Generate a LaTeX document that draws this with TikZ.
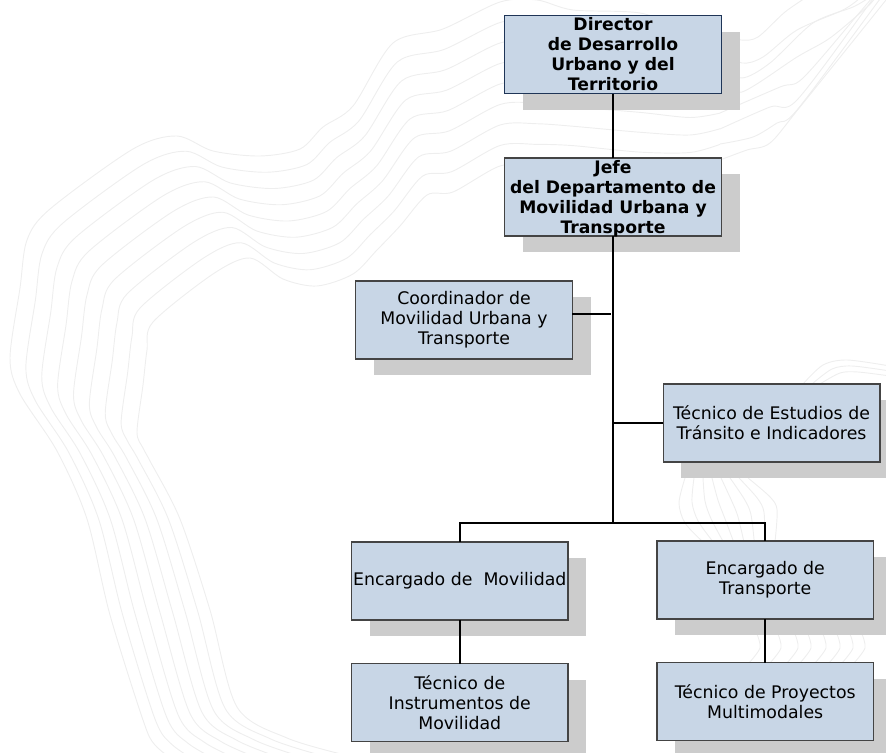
\documentclass[tikz,border=0pt]{standalone}
\usepackage{fontspec}
\setmainfont{DejaVu Sans}
\usetikzlibrary{shadows}
\definecolor{boxfill}{HTML}{C8D6E6}
\definecolor{shadowgray}{HTML}{CCCCCC}
\definecolor{contourgray}{HTML}{EEEEEE}
\definecolor{navyedge}{HTML}{1F3557}
\definecolor{grayedge}{HTML}{444444}
\def\ox{{720,690,640,573,537,500,443,393,353,323,300,260,213,177,133,50,27,20,10,20,57,87,110,143,155,180}}
\def\oy{{35,30,13,10,0,2,29,43,106,127,149,156,151,136,149,209,240,288,358,394,451,519,615,720,745,765}}
\def\ix{{720,690,640,573,537,500,453,427,400,377,353,317,283,250,213,153,147,143,137,143,150,180,210,237,287,345}}
\def\iy{{160,170,172,165,165,166,192,195,226,250,274,286,279,258,274,322,350,385,432,448,461,519,610,707,738,755}}
\tikzset{
  contour/.style={draw=contourgray,line width=0.7pt},
  orgbox/.style={draw=grayedge,fill=boxfill,line width=1pt,minimum width=162.5pt,minimum height=58.5pt,
    inner sep=0pt,outer sep=0pt,align=center,font=\fontsize{13pt}{15pt}\selectfont,
    general shadow={fill=shadowgray,shadow xshift=13.7pt,shadow yshift=-12.2pt}},
  headbox/.style={orgbox,font=\fontsize{12.9pt}{15pt}\selectfont\bfseries},
  link/.style={draw=black,line width=1.4pt}
}
\begin{document}
\begin{tikzpicture}[x=0.75pt,y=-0.75pt]
\useasboundingbox (0,0) rectangle (886,753);
\begin{scope}
\clip (0,0) rectangle (886,753);
% background contour lines
\foreach \t in {0,0.125,...,1.01}{
  \draw[contour] plot[smooth,samples at={0,...,25},variable=\i]
    ({\ox[\i]*(1-\t)+\ix[\i]*\t},{\oy[\i]*(1-\t)+\iy[\i]*\t});
}
\draw[contour] plot[smooth] coordinates {(720,35)(741,40)(758,37)(785,12)(810,-5)};
\draw[contour] plot[smooth] coordinates {(720,50.6)(742,63)(763,57)(797,30)(843,10)(860,-2)};
\draw[contour] plot[smooth] coordinates {(720,66)(742,78)(770,63)(813,23)(853,7)(870,-3)};
\draw[contour] plot[smooth] coordinates {(720,82)(742,92)(797,57)(830,38)(867,7)(875,-2)};
\draw[contour] plot[smooth] coordinates {(720,113)(780,87)(803,78)(860,12)(872,-2)};
\draw[contour] plot[smooth] coordinates {(720,129)(770,107)(797,100)(870,3)(873,-1)};
\draw[contour] plot[smooth] coordinates {(720,144)(753,137)(777,123)(797,110)(877,3)(880,-1)};
\draw[contour] plot[smooth] coordinates {(720,160)(747,150)(770,143)(800,107)(886,0)};
% arcs above the right-hand box
\draw[contour] plot[smooth] coordinates {(803,384)(823,365)(847,360)(890,366)};
\draw[contour] plot[smooth] coordinates {(812,384)(832,369)(852,366)(890,371)};
\draw[contour] plot[smooth] coordinates {(820,384)(840,373)(858,372)(890,376)};
% S-curves between the right-hand boxes
\foreach \t in {0,0.143,...,1.01}{
  \draw[contour] plot[smooth] coordinates {
    ({685+63*\t},478) ({679+91*\t},{503-6*\t}) ({685+92*\t},{523-13*\t}) ({702+73*\t},541)};
}
% arcs below Encargado de Transporte
\foreach \x in {757,778,795,808,823,837,850,862}{
  \draw[contour] plot[smooth] coordinates {(\x,634)({\x+3},648)({\x-8},663)};
}
\end{scope}
% boxes
\node[headbox,draw=navyedge] (dir) at (613,54.5) {Director\\de Desarrollo\\Urbano y del\\Territorio};
\node[headbox] (jefe) at (613,197) {Jefe\\del Departamento de\\Movilidad Urbana y\\\raisebox{0pt}[\height][0pt]{Transporte}};
\node[orgbox] (coord) at (464,320) {Coordinador de\\Movilidad Urbana y\\Transporte};
\node[orgbox] (tecE) at (771.5,423) {Técnico de Estudios de\\Tránsito e Indicadores};
\node[orgbox] (encM) at (459.75,581) {Encargado de\ \ Movilidad};
\node[orgbox] (tecI) at (459.75,702.5) {Técnico de\\Instrumentos de\\Movilidad};
\node[orgbox] (encT) at (765.2,580) {Encargado de\\Transporte};
\node[orgbox] (tecP) at (765.2,701.5) {Técnico de Proyectos\\Multimodales};
% connectors
\coordinate (bus) at (613,523);
\coordinate (cjoin) at (611,314);
\draw[link] (dir) -- (jefe);
\draw[link] (jefe.south) -- (bus);
\draw[link] (coord.east |- cjoin) -- (cjoin);
\draw[link] (tecE.west) -- (jefe.south |- tecE.west);
\draw[link] (encM.north) |- (bus);
\draw[link] (encT.north) |- (bus);
\draw[link] (encM) -- (tecI);
\draw[link] (encT) -- (tecP);
\end{tikzpicture}
\end{document}
